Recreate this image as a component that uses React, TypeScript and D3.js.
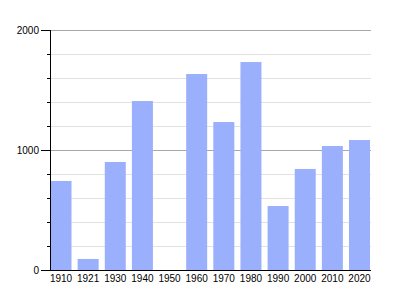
import React from "react";
import * as d3 from "d3";

const years = ["1910", "1921", "1930", "1940", "1950", "1960", "1970", "1980", "1990", "2000", "2010", "2020"];
const values = [742, 92, 900, 1408, 0, 1633, 1233, 1733, 533, 842, 1033, 1083];
const majorTicks = [0, 1000, 2000];
const minorTicks = [200, 400, 600, 800, 1200, 1400, 1600, 1800];

export default function App() {
  const W = 400, H = 300;
  const left = 50, right = 371, top = 30, bottom = 270;
  const y = d3.scaleLinear().domain([0, 2000]).range([bottom, top]);
  const x = d3.scaleBand<string>().domain(years).range([50.5, 370]).paddingInner(0.226).paddingOuter(0);
  const font = "'Liberation Sans', Arial, sans-serif";
  return (
    <svg width={W} height={H} style={{ position: "absolute", left: 0, top: 0, background: "#fff" }}>
      {minorTicks.map((t) => (
        <line key={"g" + t} x1={left} x2={right} y1={Math.round(y(t)) + 0.5} y2={Math.round(y(t)) + 0.5} stroke="#e2e2e2" strokeWidth={1} />
      ))}
      {majorTicks.filter((t) => t > 0).map((t) => (
        <line key={"G" + t} x1={left} x2={right} y1={Math.round(y(t)) + 0.5} y2={Math.round(y(t)) + 0.5} stroke="#a8a8a8" strokeWidth={1} />
      ))}
      {years.map((yr, i) => (
        <rect key={yr} x={x(yr)} y={y(values[i])} width={x.bandwidth()} height={bottom - y(values[i])} fill="#9ab0fc" />
      ))}
      <line x1={left + 0.5} x2={left + 0.5} y1={top} y2={bottom + 0.5} stroke="#000" strokeWidth={1} />
      <line x1={left} x2={right} y1={bottom + 0.5} y2={bottom + 0.5} stroke="#000" strokeWidth={1} />
      {minorTicks.map((t) => (
        <line key={"m" + t} x1={47} x2={50} y1={Math.round(y(t)) + 0.5} y2={Math.round(y(t)) + 0.5} stroke="#000" strokeWidth={1} />
      ))}
      {majorTicks.map((t) => (
        <g key={"M" + t}>
          <line x1={41} x2={50} y1={Math.round(y(t)) + 0.5} y2={Math.round(y(t)) + 0.5} stroke="#000" strokeWidth={1} />
          <text x={39} y={y(t)} dy="0.35em" textAnchor="end" fontFamily={font} fontSize={10} fill="#000">{t}</text>
        </g>
      ))}
      {years.map((yr) => (
        <text key={"l" + yr} x={(x(yr) as number) + x.bandwidth() / 2} y={282} textAnchor="middle" fontFamily={font} fontSize={10} fill="#000">{yr}</text>
      ))}
    </svg>
  );
}
